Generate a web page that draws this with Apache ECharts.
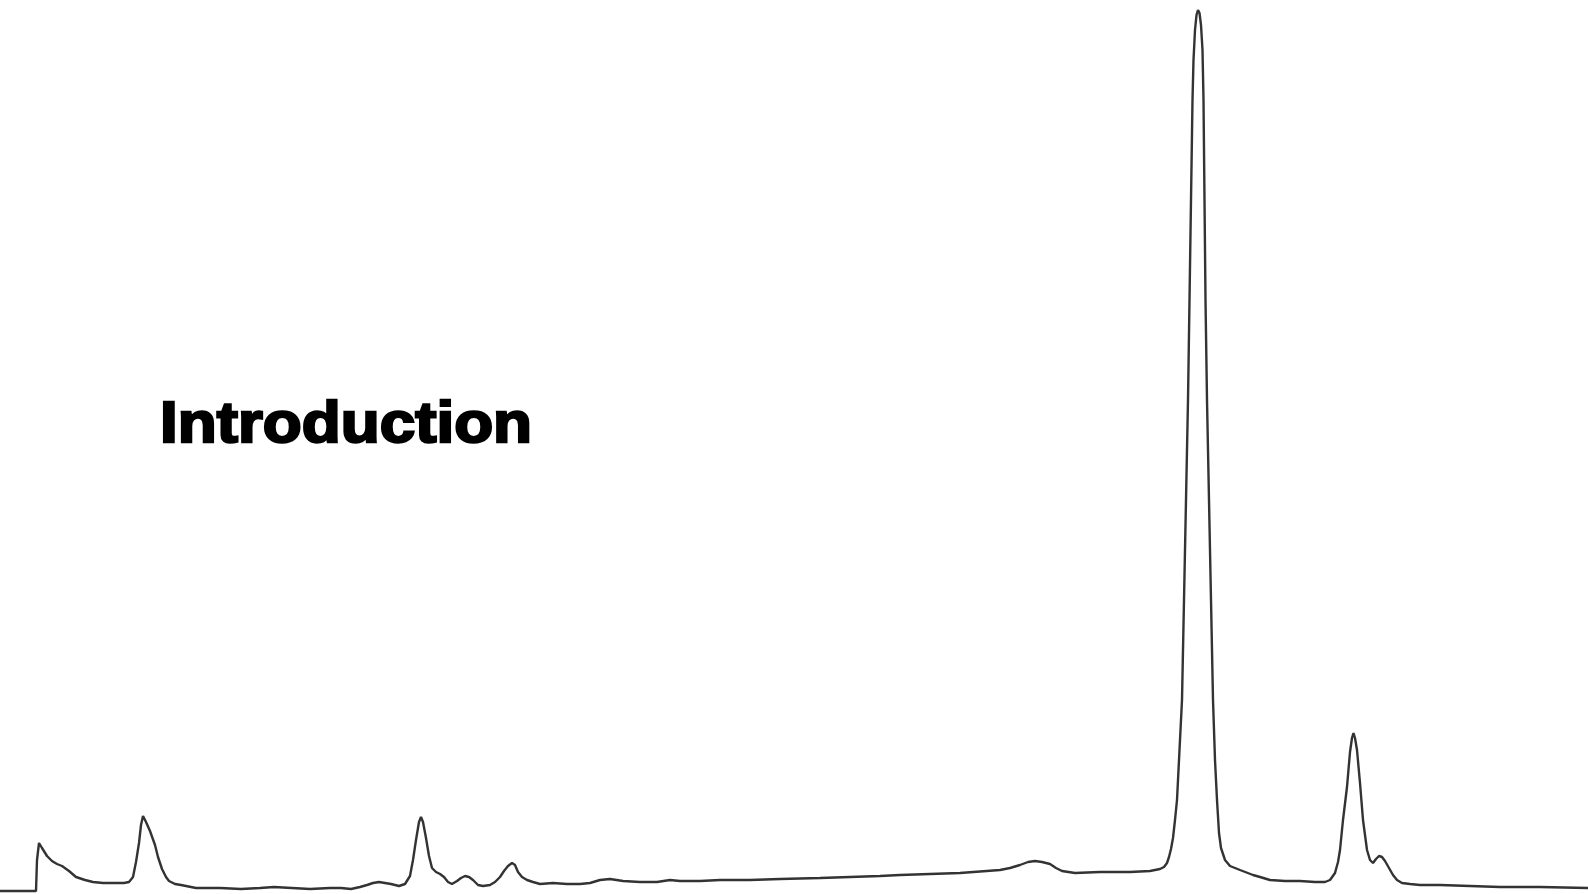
<!DOCTYPE html>
<html>
<head>
<meta charset="utf-8">
<script src="https://cdn.jsdelivr.net/npm/echarts@6/dist/echarts.min.js"></script>
<style>html,body{margin:0;padding:0;background:#fff;}#c{width:1588px;height:894px;}</style>
</head>
<body>
<div id="c"></div>
<script>
// Retention position (arbitrary units across the run)
var times = [0,36,37,39,42,47,52,57,62,69,76,85,93,103,114,124,129,133,136,139,141,143,146,150,155,158,162,166,169,175,181,196,220,241,260,274,292,310,330,341,351,360,367,373,379,385,391,399,405,410,413,416,419,421,423,426,429,432,436,440,444,448,452,457,461,465,469,473,478,483,490,495,500,504,508,512,515,518,522,527,533,540,553,567,580,590,600,610,623,640,657,670,680,700,720,750,780,820,850,880,900,930,960,1000,1010,1020,1028,1035,1042,1050,1056,1062,1075,1100,1130,1150,1160,1164,1167,1169,1171,1173,1175,1177,1179,1182,1184,1186,1188,1189.5,1191,1192.5,1193.5,1195,1196.5,1198,1199.5,1201,1202.5,1203.5,1204.5,1205.5,1207,1209,1211,1213,1215,1217,1219,1221,1225,1230,1240,1253,1260,1270,1285,1300,1315,1325,1330,1335,1338,1340,1343,1347,1350,1352,1353.5,1355,1357,1360,1363,1367,1370,1373,1376,1379,1382,1385,1389,1393,1397,1402,1410,1420,1440,1470,1500,1540,1588];
// Detector position of the trace (pixel rows, top = 0)
var rows = [891,891,860,843,848,856,861,864,866,871,877,880,882,883,883,883,882,877,862,843,825,816,822,831,845,857,869,877,881,884,885,888,888,889,888,887,888,889,888,888,889,887,885,883,882,883,884,886,884,876,860,840,822,817,822,838,856,868,872,874,877,882,884,881,878,876,877,880,885,886,885,882,877,871,866,863,865,872,877,880,882,884,883,884,884,883,880,879,881,882,882,880,881,881,880,880,879,878,877,876,875,874,873,870,868,865,862,861,862,864,868,871,873,872,872,871,869,867,863,857,849,838,820,800,760,700,600,500,400,300,200,100,60,30,15,10,13,25,50,100,200,300,400,500,600,700,760,800,833,848,860,866,870,875,877,880,881,881,882,882,880,873,862,850,820,787,752,738,733,738,750,783,820,850,860,863,859,856,857,861,868,875,880,883,884,885,885,886,887,887,888];
var BASE = 891;
var signal = rows.map(function(r){ return BASE - r; });
var title = 'Introduction';

var data = times.map(function(t, i){ return [t, signal[i]]; });
var chart = echarts.init(document.getElementById('c'), null, {renderer:'canvas'});
chart.setOption({
  animation: false,
  backgroundColor: '#ffffff',
  grid: {left: 0, right: 0, top: 0, bottom: 0},
  xAxis: {type: 'value', min: 0, max: 1588, show: false},
  yAxis: {type: 'value', min: -3, max: 891, show: false},
  series: [{
    type: 'line',
    data: data,
    showSymbol: false,
    symbol: 'none',
    smooth: false,
    lineStyle: {color: '#333333', width: 2.4}
  }],
  graphic: [{
    type: 'text',
    x: 160,
    y: 426,
    scaleX: 1.1,
    style: {
      text: title,
      font: 'bold 58px "Liberation Sans", Arial, sans-serif',
      fill: '#000',
      stroke: '#000',
      lineWidth: 2.4,
      verticalAlign: 'middle',
      align: 'left'
    }
  }]
});
</script>
</body>
</html>
